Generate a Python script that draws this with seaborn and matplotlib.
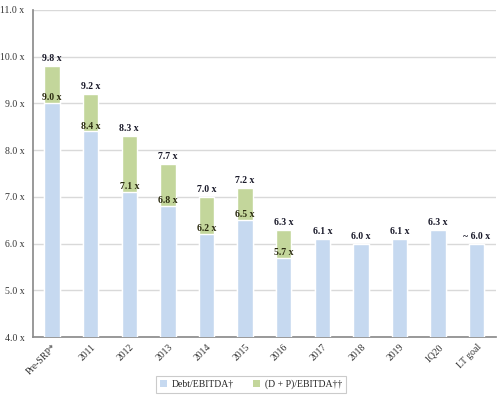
import numpy as np
import pandas as pd
import seaborn as sns
import matplotlib.pyplot as plt
from matplotlib.patches import Patch

categories = ['Pre-SRP*', '2011', '2012', '2013', '2014', '2015', '2016',
              '2017', '2018', '2019', '1Q20', 'LT goal']
debt = [9.0, 8.4, 7.1, 6.8, 6.2, 6.5, 5.7, 6.1, 6.0, 6.1, 6.3, 6.0]
total = [9.8, 9.2, 8.3, 7.7, 7.0, 7.2, 6.3, 6.1, 6.0, 6.1, 6.3, 6.0]
has_pref = [True, True, True, True, True, True, True,
            False, False, False, False, False]
top_labels = ['9.8 x', '9.2 x', '8.3 x', '7.7 x', '7.0 x', '7.2 x', '6.3 x',
              '6.1 x', '6.0 x', '6.1 x', '6.3 x', '~ 6.0 x']

blue = '#c6d9f0'
green = '#c3d69b'


def main():
    sns.set_theme(style='white')
    plt.rcParams['font.family'] = ['Liberation Serif', 'DejaVu Serif']

    df = pd.DataFrame({'cat': categories, 'debt': debt, 'total': total})

    fig = plt.figure(figsize=(4.97, 3.98), dpi=100)
    ax = fig.add_axes([0.066, 0.153, 0.932, 0.822])

    sns.barplot(data=df, x='cat', y='total', color=green, saturation=1,
                width=0.4, ax=ax, zorder=2)
    sns.barplot(data=df, x='cat', y='debt', color=blue, saturation=1,
                width=0.4, ax=ax, zorder=3)

    ax.set_ylim(4, 11)
    ax.set_xlim(-0.5, len(categories) - 0.5)
    ax.set_yticks(np.arange(4, 11.01, 1))
    ax.set_yticklabels(['%.1f x' % v for v in np.arange(4, 11.01, 1)],
                       fontsize=7, color='#333333')
    ax.yaxis.grid(True, color='#d9d9d9', linewidth=1, zorder=0)
    ax.set_axisbelow(True)
    ax.set_xlabel('')
    ax.set_ylabel('')
    ax.tick_params(axis='both', length=0)
    ax.tick_params(axis='x', labelsize=7, labelcolor='#333333', pad=4)
    ax.tick_params(axis='y', pad=6)
    plt.setp(ax.get_xticklabels(), rotation=45, ha='right', rotation_mode='anchor')

    for s in ['top', 'right']:
        ax.spines[s].set_visible(False)
    ax.spines['left'].set_color('#8c8c8c')
    ax.spines['bottom'].set_color('#8c8c8c')

    for i in range(len(categories)):
        ax.text(i, total[i] + 0.06, top_labels[i], ha='center', va='bottom',
                fontsize=7, color='#1a1a2a', fontweight='bold', zorder=5)
        if has_pref[i]:
            ax.text(i, debt[i] + 0.02, '%.1f x' % debt[i], ha='center', va='bottom',
                    fontsize=7, color='#2b2b10', fontweight='bold', zorder=5)

    handles = [Patch(facecolor=blue, edgecolor='none', label='Debt/EBITDA\u2020'),
               Patch(facecolor=green, edgecolor='none', label='(D + P)/EBITDA\u2020\u2020')]
    leg = fig.legend(handles=handles, loc='lower center', ncol=2,
                     bbox_to_anchor=(0.505, 0.0), fontsize=7, frameon=True,
                     handlelength=0.7, handleheight=0.7, handletextpad=0.5,
                     columnspacing=2.0, borderpad=0.4, fancybox=False)
    leg.get_frame().set_edgecolor('#bfbfbf')
    leg.get_frame().set_linewidth(0.8)

    fig.savefig('out.png', dpi=100)


if __name__ == '__main__':
    main()
